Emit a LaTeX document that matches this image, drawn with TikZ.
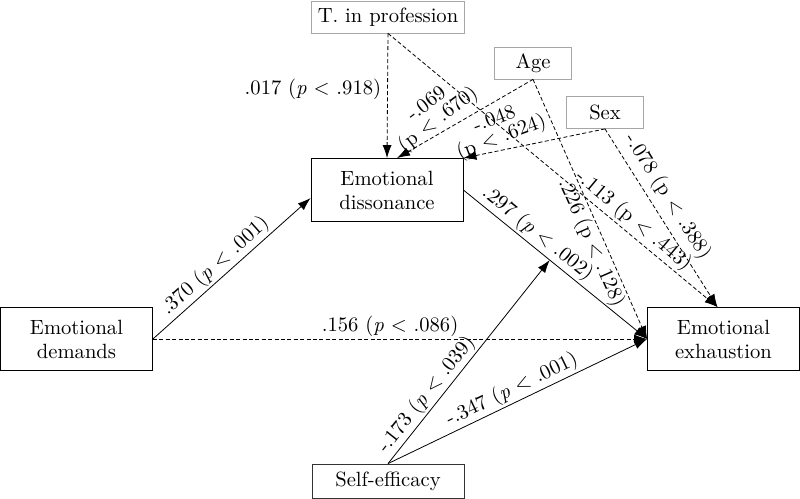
\documentclass[tikz,border=0pt]{standalone}
\usetikzlibrary{arrows.meta,calc}
\begin{document}
\begin{tikzpicture}[x=0.5pt,y=-0.5pt,>={Latex[length=6.5pt,width=4.5pt]},
    every node/.style={font=\fontsize{10.3}{12}\selectfont,inner sep=1pt},
    var/.style={draw,minimum width=76pt,minimum height=31.5pt,align=center},
    ctrl/.style={draw=gray!70,minimum width=38.5pt,minimum height=16pt},
    cov/.style={dash pattern=on 2pt off 1.2pt},
    twoline/.style={align=center,font=\fontsize{10.3}{9.5}\selectfont}]
    \useasboundingbox (0,0) rectangle (800,499);

    \node[var] (dem) at (76.5,339) {Emotional\\demands};
    \node[var] (diss) at (387,190) {Emotional\\dissonance};
    \node[var] (exh) at (723.5,339) {Emotional\\exhaustion};
    \node[var,minimum height=17pt,draw=gray!40!black] (self) at (388,481) {Self-efficacy};

    \node[ctrl,minimum width=76.5pt] (tip) at (388,17) {T. in profession};
    \node[ctrl] (age) at (533,63) {Age};
    \node[ctrl] (sex) at (605,112.5) {Sex};

    \coordinate (m) at ($(diss.east)!.47!(exh.west)$);

    % main paths
    \draw[->] (dem.east) -- node[pos=.45,above,sloped] {.370 (\textit{p} < .001)} ([yshift=-4pt]diss.west);
    \draw[->,cov] (dem.east) -- node[pos=.48,above] {.156 (\textit{p} < .086)} (exh.west);
    \draw[->] (diss.east) -- node[pos=.36,above,sloped] {.297 (\textit{p} < .002)} (exh.west);
    \draw[->] (self.north) -- node[pos=.3,above,sloped] {-.173 (\textit{p} < .039)} (m);
    \draw[->] (self.north) -- node[pos=.5,above,sloped] {-.347 (\textit{p} < .001)} (exh.west);

    % controls
    \draw[->,cov] (tip.south) -- node[pos=.45,left=2pt] {.017 (\textit{p} < .918)} (diss.north);
    \draw[->,cov] (tip.south) -- node[pos=.72,above,sloped] {-.113 (p < .443)} ([xshift=-3pt]exh.north);
    \draw[<-,cov] ([xshift=5pt]diss.north) -- node[pos=.36,above,sloped,rotate=7,twoline] {-.069\\(p < .670)} (age.south);
    \draw[->,cov] (age.south) -- node[pos=.61,below,sloped] {.226 (p < .128)} (exh.west);
    \draw[<-,cov] (diss.north east) -- node[pos=.3,above,sloped,rotate=9,twoline] {-.048\\(p < .624)} (sex.south);
    \draw[->,cov] (sex.south) -- node[pos=.43,above=2pt,sloped] {-.078 (p < .388)} ([xshift=-3pt]exh.north);

  \end{tikzpicture}
\end{document}
